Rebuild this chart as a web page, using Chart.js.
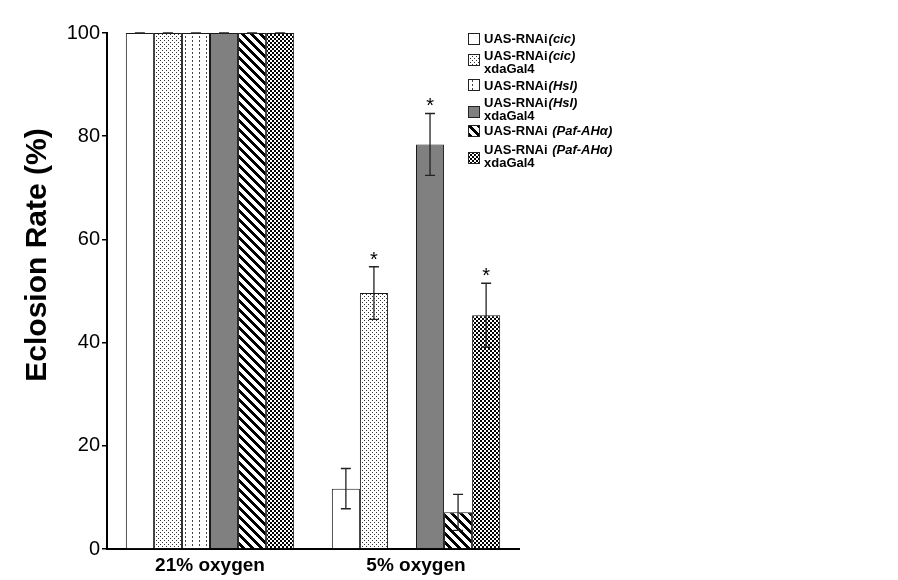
<!DOCTYPE html>
<html>
<head>
<meta charset="utf-8">
<script src="https://cdn.jsdelivr.net/npm/chart.js@4.4.0/dist/chart.umd.min.js"></script>
<style>
  html, body { margin: 0; padding: 0; background: #fff; }
  #wrap { width: 898px; height: 580px; }
</style>
</head>
<body>
<div id="wrap"><canvas id="chart" width="898" height="580"></canvas></div>
<script>
// valeurs
const categories = ['21% oxygen', '5% oxygen'];
const yTicks = [0, 20, 40, 60, 80, 100];

const cicValues = [100, 11.7];
const cicGal4Values = [100, 49.6];
const hslValues = [100, 0];
const hslGal4Values = [100, 78.4];
const pafValues = [100, 7.1];
const pafGal4Values = [100, 45.3];

// demi-largeur des barres d'erreur
const cicErr = [0, 3.9];
const cicGal4Err = [0, 5.1];
const hslErr = [0, 0];
const hslGal4Err = [0, 6.0];
const pafErr = [0, 3.5];
const pafGal4Err = [0, 6.2];

// etoiles de significativite
const cicStar = [false, false];
const cicGal4Star = [false, true];
const hslStar = [false, false];
const hslGal4Star = [false, true];
const pafStar = [false, false];
const pafGal4Star = [false, true];

// textes de legende
const genes = ['(cic)', '(cic)', '(Hsl)', '(Hsl)', ' (Paf-AHα)', ' (Paf-AHα)'];
const drivers = ['', 'xdaGal4', '', 'xdaGal4', '', 'xdaGal4'];

const FONT = '"Liberation Sans", Arial, sans-serif';
const canvas = document.getElementById('chart');
const baseCtx = canvas.getContext('2d');

function makePattern(w, h, color, isDark) {
    const c = document.createElement('canvas');
    c.width = w; c.height = h;
    const g = c.getContext('2d');
    g.fillStyle = '#fff';
    g.fillRect(0, 0, w, h);
    g.fillStyle = color;
    for (let y = 0; y < h; y++) {
        for (let x = 0; x < w; x++) {
            if (isDark(x, y)) g.fillRect(x, y, 1, 1);
        }
    }
    return baseCtx.createPattern(c, 'repeat');
}

const fills = [
    '#ffffff',
    makePattern(4, 4, '#333', (x, y) => (x === 0 && y === 0) || (x === 2 && y === 2)),
    makePattern(7, 4, '#444', (x, y) => x === 3 && y < 2),
    '#808080',
    makePattern(9, 9, '#000', (x, y) => ((x - y) % 9 + 9) % 9 < 4),
    makePattern(4, 4, '#000', (x, y) => (Math.floor(x / 2) + Math.floor(y / 2)) % 2 === 0)
];

const series = [
    { values: cicValues, err: cicErr, star: cicStar },
    { values: cicGal4Values, err: cicGal4Err, star: cicGal4Star },
    { values: hslValues, err: hslErr, star: hslStar },
    { values: hslGal4Values, err: hslGal4Err, star: hslGal4Star },
    { values: pafValues, err: pafErr, star: pafStar },
    { values: pafGal4Values, err: pafGal4Err, star: pafGal4Star }
];

const datasets = series.map((s, i) => ({
    label: 'UAS-RNAi' + genes[i] + (drivers[i] ? ' ' + drivers[i] : ''),
    data: s.values,
    errors: s.err,
    stars: s.star,
    backgroundColor: fills[i],
    borderColor: '#1a1a1a',
    borderWidth: 1,
    categoryPercentage: 0.817,
    barPercentage: 1
}));

// barres d'erreur + etoiles
const errorBars = {
    id: 'errorBars',
    afterDatasetsDraw(chart) {
        const ctx = chart.ctx;
        const yScale = chart.scales.y;
        ctx.save();
        ctx.strokeStyle = '#222';
        ctx.fillStyle = '#000';
        ctx.lineWidth = 1.3;
        chart.data.datasets.forEach((ds, i) => {
            const meta = chart.getDatasetMeta(i);
            meta.data.forEach((bar, j) => {
                const v = ds.data[j];
                if (!v) return;
                const e = ds.errors[j];
                const top = yScale.getPixelForValue(v + e);
                const bot = yScale.getPixelForValue(v - e);
                const x = bar.x;
                ctx.beginPath();
                ctx.moveTo(x, top); ctx.lineTo(x, bot);
                ctx.moveTo(x - 5, top); ctx.lineTo(x + 5, top);
                ctx.moveTo(x - 5, bot); ctx.lineTo(x + 5, bot);
                ctx.stroke();
                if (ds.stars[j]) {
                    ctx.font = '20px ' + FONT;
                    ctx.textAlign = 'center';
                    ctx.textBaseline = 'alphabetic';
                    ctx.fillText('*', x, top - 1);
                }
            });
        });
        ctx.restore();
    }
};

// legende et titre de l'axe y
const extras = {
    id: 'extras',
    afterDraw(chart) {
        const ctx = chart.ctx;
        ctx.save();

        ctx.translate(38, 255);
        ctx.rotate(-Math.PI / 2);
        ctx.font = 'bold 30px ' + FONT;
        ctx.fillStyle = '#000';
        ctx.textAlign = 'center';
        ctx.textBaseline = 'middle';
        ctx.fillText('Eclosion Rate (%)', 0, 0);
        ctx.setTransform(1, 0, 0, 1, 0, 0);

        const boxTops = [33, 54, 79, 106, 125, 152];
        const baselines = [43, 60, 90, 107, 135, 154];
        ctx.textAlign = 'left';
        ctx.textBaseline = 'alphabetic';
        chart.data.datasets.forEach((ds, i) => {
            ctx.fillStyle = ds.backgroundColor;
            ctx.fillRect(468, boxTops[i], 12, 12);
            ctx.strokeStyle = '#222';
            ctx.lineWidth = 1;
            ctx.strokeRect(468.5, boxTops[i] + 0.5, 11, 11);

            ctx.fillStyle = '#000';
            ctx.font = 'bold 13px ' + FONT;
            ctx.fillText('UAS-RNAi', 484, baselines[i]);
            const w = ctx.measureText('UAS-RNAi').width;
            ctx.font = 'italic bold 13px ' + FONT;
            ctx.fillText(genes[i], 484 + w + 1, baselines[i]);
            if (drivers[i]) {
                ctx.font = 'bold 13px ' + FONT;
                ctx.fillText(drivers[i], 484, baselines[i] + 13);
            }
        });
        ctx.restore();
    }
};

new Chart(canvas, {
    type: 'bar',
    data: { labels: categories, datasets: datasets },
    options: {
        responsive: false,
        animation: false,
        devicePixelRatio: 1,
        layout: { padding: { top: 33, right: 379, bottom: 0, left: 0 } },
        plugins: { legend: { display: false }, tooltip: { enabled: false } },
        scales: {
            x: {
                grid: { display: false, drawTicks: false },
                border: { display: true, color: '#000', width: 2 },
                ticks: {
                    color: '#000',
                    padding: 5,
                    font: { family: FONT, size: 19, weight: 'bold' }
                },
                afterFit: (scale) => { scale.height = 31; }
            },
            y: {
                min: 0,
                max: 100,
                afterBuildTicks: (scale) => { scale.ticks = yTicks.map(v => ({ value: v })); },
                grid: { drawOnChartArea: false, drawTicks: true, tickLength: 5, color: '#000', lineWidth: 1.5 },
                border: { display: true, color: '#000', width: 2 },
                ticks: {
                    color: '#000',
                    padding: 2,
                    font: { family: FONT, size: 20 }
                },
                afterFit: (scale) => { scale.width = 107; }
            }
        }
    },
    plugins: [errorBars, extras]
});
</script>
</body>
</html>
